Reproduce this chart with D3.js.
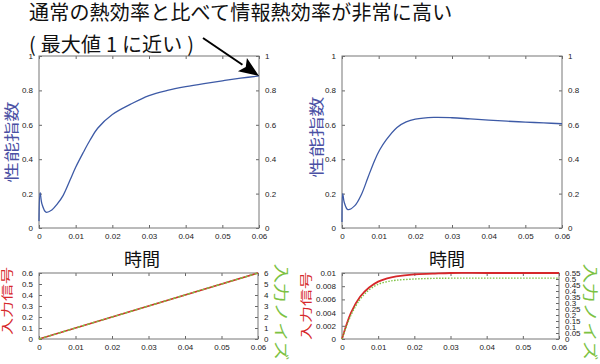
<!DOCTYPE html>
<html>
<head>
<meta charset="utf-8">
<script src="https://cdn.jsdelivr.net/npm/d3@7.9.0/dist/d3.min.js"></script>
<style>
  html, body { margin: 0; padding: 0; background: #fff; }
  svg { display: block; }
  .tick text { font-family: "Liberation Sans", Arial, sans-serif; font-size: 8px; fill: #222; }
  .jp { font-family: "Noto Sans CJK JP", sans-serif; }
</style>
</head>
<body>
<svg id="chart" width="600" height="364"></svg>
<script>
// time axis shared by all panels
const timeTicks = [0, 0.01, 0.02, 0.03, 0.04, 0.05, 0.06];

// performance index, left panel (high information efficiency)
const tLeft   = [0, 0.0003, 0.0008, 0.0019, 0.0035, 0.005, 0.0066, 0.0085, 0.01, 0.0121, 0.0139, 0.016, 0.02, 0.025, 0.03, 0.035, 0.04, 0.045, 0.05, 0.055, 0.06];
const effLeft = [0.04, 0.205, 0.14, 0.092, 0.105, 0.14, 0.19, 0.28, 0.353, 0.44, 0.51, 0.58, 0.66, 0.72, 0.77, 0.80, 0.822, 0.84, 0.856, 0.871, 0.884];

// performance index, right panel
const tRight   = [0, 0.0002, 0.0006, 0.0016, 0.0035, 0.0053, 0.0071, 0.0089, 0.0103, 0.0121, 0.015, 0.0175, 0.02, 0.025, 0.03, 0.035, 0.04, 0.045, 0.05, 0.055, 0.06];
const effRight = [0.035, 0.2, 0.15, 0.107, 0.13, 0.195, 0.295, 0.393, 0.455, 0.514, 0.585, 0.617, 0.633, 0.643, 0.641, 0.634, 0.627, 0.621, 0.616, 0.611, 0.606];

const effTicks = [0, 0.2, 0.4, 0.6, 0.8, 1];

// input signal / input noise, left (ramp)
const tRamp = [0, 0.06];
const signalRamp = [0, 0.6];
const noiseRamp = [0, 6];
const signalRampTicks = [0, 0.1, 0.2, 0.3, 0.4, 0.5, 0.6];
const noiseRampTicks = [0, 1, 2, 3, 4, 5, 6];

// input signal / input noise, right (saturating)
const tSat = [0, 0.0025, 0.005, 0.0075, 0.01, 0.0125, 0.015, 0.02, 0.025, 0.03, 0.04, 0.06];
const signalSat = [0, 0.004, 0.0064, 0.0078, 0.0087, 0.0092, 0.0095, 0.0098, 0.0099, 0.01, 0.01, 0.01];
const noiseSat = [0, 0.2, 0.33, 0.41, 0.456, 0.478, 0.49, 0.5, 0.505, 0.507, 0.507, 0.507];
const signalSatTicks = [0, 0.002, 0.004, 0.006, 0.008, 0.01];
const noiseSatTicks = [0, 0.05, 0.1, 0.15, 0.2, 0.25, 0.3, 0.35, 0.4, 0.45, 0.5, 0.55];

const BLUE = "#3d5aa6", LABEL_BLUE = "#4a50a4", RED = "#d6282b", GREEN = "#7cc242";

const svg = d3.select("#chart");

function zip(xs, ys) { return xs.map((x, i) => [x, ys[i]]); }

function vlabel(text, cx, cy, rot, color, size, stretch) {
  svg.append("text").attr("class", "jp")
    .attr("transform", `translate(${cx},${cy}) rotate(${rot}) scale(${stretch},1)`)
    .attr("text-anchor", "middle").attr("dominant-baseline", "central")
    .attr("fill", color).attr("font-size", size)
    .text(text);
}

function panel(o) {
  const g = svg.append("g");
  const x = d3.scaleLinear().domain([0, 0.06]).range([o.left, o.right]);
  const y = d3.scaleLinear().domain(o.yDomain).range([o.bottom, o.top]);
  const y2 = d3.scaleLinear().domain(o.y2Domain || o.yDomain).range([o.bottom, o.top]);

  const fmt = d => String(d);

  const ax = (axis, tr) => {
    const a = g.append("g").attr("transform", tr).call(axis);
    a.select(".domain").remove();
    a.selectAll(".tick line").attr("stroke", "#666");
    return a;
  };
  ax(d3.axisBottom(x).tickValues(timeTicks).tickFormat(fmt).tickSize(-3).tickPadding(5), `translate(0,${o.bottom})`);
  ax(d3.axisTop(x).tickValues(timeTicks).tickFormat("").tickSize(-3), `translate(0,${o.top})`);
  ax(d3.axisLeft(y).tickValues(o.yTicks).tickFormat(fmt).tickSize(-3).tickPadding(6), `translate(${o.left},0)`);
  ax(d3.axisRight(y2).tickValues(o.y2Ticks || o.yTicks).tickFormat(fmt).tickSize(-3).tickPadding(6), `translate(${o.right},0)`);

  g.append("rect")
    .attr("x", o.left).attr("y", o.top)
    .attr("width", o.right - o.left).attr("height", o.bottom - o.top)
    .attr("fill", "none").attr("stroke", "#777").attr("stroke-width", 1);

  o.series.forEach(s => {
    const ys = s.axis === 2 ? y2 : y;
    const line = d3.line().x(d => x(d[0])).y(d => ys(d[1])).curve(d3.curveCatmullRom.alpha(0.5));
    g.append("path")
      .attr("d", line(zip(s.t, s.v)))
      .attr("fill", "none")
      .attr("stroke", s.color)
      .attr("stroke-width", s.width || 1.3)
      .attr("stroke-dasharray", s.dash || null);
  });

  (o.labels || []).forEach(l => vlabel(...l));
  return { x, y, y2 };
}

// top-left: efficiency close to 1
const pTL = panel({
  left: 39, right: 259, top: 56, bottom: 228,
  yDomain: [0, 1], yTicks: effTicks,
  series: [{ t: tLeft, v: effLeft, color: BLUE, width: 1.3 }],
  labels: [["性能指数", 10, 142, -90, LABEL_BLUE, 15, 1.35]]
});

// top-right
panel({
  left: 342, right: 562, top: 56, bottom: 228,
  yDomain: [0, 1], yTicks: effTicks,
  series: [{ t: tRight, v: effRight, color: BLUE, width: 1.3 }],
  labels: [["性能指数", 315, 137, -90, LABEL_BLUE, 15, 1.35]]
});

// bottom-left
panel({
  left: 39, right: 258, top: 273, bottom: 339,
  yDomain: [0, 0.6], yTicks: signalRampTicks,
  y2Domain: [0, 6], y2Ticks: noiseRampTicks,
  series: [
    { t: tRamp, v: signalRamp, color: RED, width: 1.6 },
    { t: tRamp, v: noiseRamp, color: GREEN, width: 1.4, dash: "3,2", axis: 2 }
  ],
  labels: [["入力信号", 7, 301, -90, RED, 12, 1.42], ["入力ノイズ", 282, 312, 90, GREEN, 15, 1.3]]
});

// bottom-right
panel({
  left: 342, right: 559, top: 273, bottom: 339,
  yDomain: [0, 0.01], yTicks: signalSatTicks,
  y2Domain: [0, 0.55], y2Ticks: noiseSatTicks,
  series: [
    { t: tSat, v: signalSat, color: RED, width: 1.8 },
    { t: tSat, v: noiseSat, color: GREEN, width: 1.4, dash: "1.5,1.5", axis: 2 }
  ],
  labels: [["入力信号", 306, 306, -90, RED, 12, 1.42], ["入力ノイズ", 591, 312, 90, GREEN, 15, 1.3]]
});

// x labels
[[142, "時間"], [447, "時間"]].forEach(([cx, t]) => {
  svg.append("text").attr("class", "jp")
    .attr("x", cx).attr("y", 258).attr("text-anchor", "middle").attr("dominant-baseline", "central")
    .attr("font-size", 18).attr("fill", "#111").text(t);
});

// annotation
svg.append("text").attr("class", "jp")
  .attr("x", 29).attr("y", 20).attr("font-size", 20).attr("letter-spacing", 0.2).attr("fill", "#111")
  .text("通常の熱効率と比べて情報熱効率が非常に高い");
svg.append("text").attr("class", "jp")
  .attr("x", 29).attr("y", 52).attr("font-size", 20).attr("letter-spacing", 0.2).attr("fill", "#111")
  .text("( 最大値 1 に近い )");

// arrow pointing at the last value of the left efficiency curve
const tipX = pTL.x(tLeft[tLeft.length - 1]);
const tipY = pTL.y(effLeft[effLeft.length - 1]);
const sx = 203, sy = 38;
const ang = Math.atan2(tipY - sy, tipX - sx);
const headLen = 20, headW = 8;
const bx = tipX - headLen * Math.cos(ang), by = tipY - headLen * Math.sin(ang);
svg.append("line")
  .attr("x1", sx).attr("y1", sy).attr("x2", bx).attr("y2", by)
  .attr("stroke", "#000").attr("stroke-width", 2);
svg.append("path")
  .attr("d", `M${tipX},${tipY}L${bx + headW * Math.sin(ang)},${by - headW * Math.cos(ang)}L${bx + 4 * Math.cos(ang)},${by + 4 * Math.sin(ang)}L${bx - headW * Math.sin(ang)},${by + headW * Math.cos(ang)}Z`)
  .attr("fill", "#000");
</script>
</body>
</html>
